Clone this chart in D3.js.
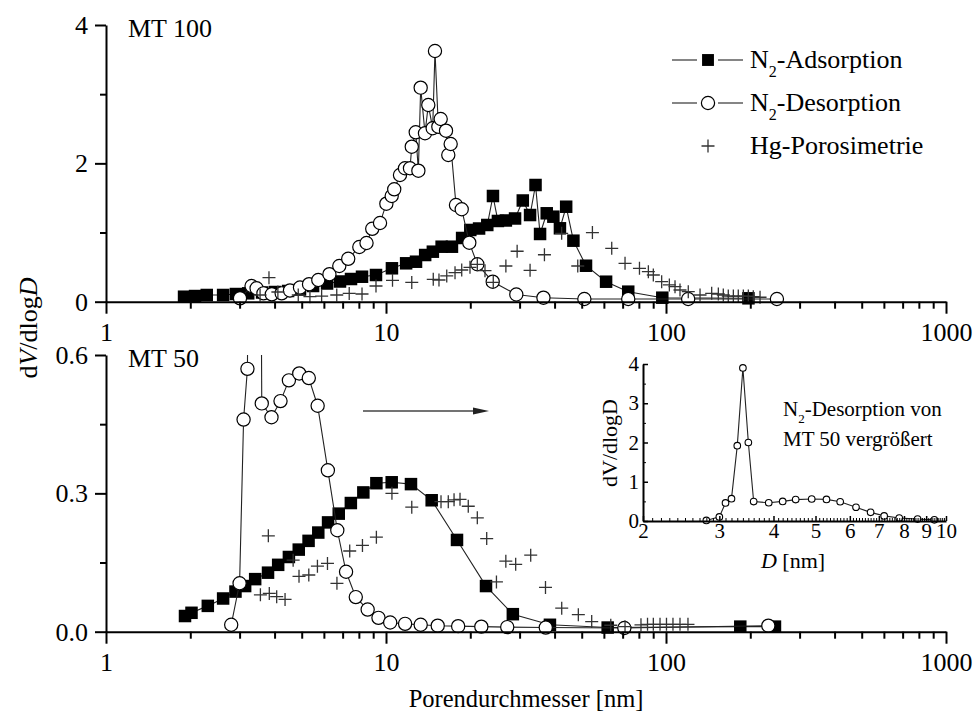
<!DOCTYPE html>
<html>
<head>
<meta charset="utf-8">
<script src="https://cdn.jsdelivr.net/npm/d3@7"></script>
<style>
  html, body { margin: 0; padding: 0; background: #fff; }
  svg { display: block; font-family: "Liberation Serif", "Times New Roman", serif; }
</style>
</head>
<body>
<svg id="chart" width="976" height="718"></svg>
<script>
// ---- Pore size distributions, [D in nm, dV/dlogD] ----
const mt100Adsorption = [
  [1.90,0.072],[2.08,0.082],[2.29,0.097],[2.62,0.097],[2.91,0.111],[3.22,0.121],[3.61,0.133],
  [4.01,0.140],[4.47,0.155],[4.93,0.176],[5.49,0.227],[6.16,0.263],[6.85,0.292],[7.50,0.328],
  [8.21,0.361],[9.21,0.386],[10.5,0.483],[11.8,0.555],[12.8,0.578],[13.8,0.675],[14.7,0.723],
  [15.8,0.795],[17.2,0.795],[18.7,0.921],[20.0,1.037],[21.5,1.058],[23.0,1.109],[24.1,1.528],
  [25.1,1.167],[26.8,1.174],[28.9,1.203],[30.8,1.463],[32.7,1.253],[34.2,1.687],[35.5,0.979],
  [37.5,1.278],[39.6,1.229],[41.8,1.061],[44.0,1.373],[46.7,0.882],[51.8,0.520],[61.1,0.289],
  [73.3,0.145],[97.0,0.058],[197,0.049]
];
const mt100Desorption = [
  [3.01,0.049],[3.31,0.227],[3.45,0.194],[3.65,0.121],[3.91,0.107],[4.24,0.121],[4.54,0.162],
  [4.93,0.205],[5.31,0.253],[5.73,0.314],[6.28,0.398],[6.81,0.516],[7.33,0.620],[8.03,0.791],
  [8.52,0.849],[8.93,1.054],[9.52,1.138],[10.03,1.417],[10.48,1.528],[10.70,1.625],[11.22,1.832],
  [11.69,1.929],[12.18,1.929],[12.36,2.241],[12.77,2.449],[13.05,1.894],[13.30,3.094],[13.78,2.435],
  [14.16,2.844],[14.68,2.507],[14.96,3.624],[15.38,2.530],[15.68,2.641],[16.38,2.472],[16.69,2.121],
  [17.02,2.280],[17.78,1.398],[18.64,1.336],[19.84,0.853],[21.19,0.541],[24.05,0.289],[29.2,0.104],
  [36.5,0.058],[51.1,0.039],[73.3,0.039],[120,0.039],[249,0.039]
];
const mt100Hg = [
  [3.55,0.097],[3.82,0.347],[4.11,0.140],[4.86,0.097],[5.35,0.072],[5.89,0.082],[6.67,0.097],
  [7.39,0.119],[8.21,0.111],[9.21,0.227],[10.55,0.309],[12.36,0.278],[14.75,0.324],[15.46,0.314],
  [16.48,0.372],[17.64,0.419],[18.64,0.458],[19.95,0.497],[21.19,0.541],[22.57,0.448],[24.16,0.278],
  [26.8,0.516],[29.4,0.729],[32.7,0.454],[36.8,0.679],[42.4,0.989],[48.4,0.516],[54.6,1.000],
  [64.0,0.772],[71.4,0.555],[80.4,0.483],[86.5,0.434],[90.1,0.386],[96.5,0.289],[102.8,0.242],
  [107.7,0.217],[112.2,0.169],[120.1,0.145],[132.3,0.097],[145.6,0.121],[153.8,0.111],[160.2,0.097],
  [166.9,0.082],[174.0,0.082],[181.2,0.082],[188.9,0.082],[196.8,0.082],[205.0,0.072],[216.7,0.064]
];

const mt50Adsorption = [
  [1.915,0.034],[2.02,0.041],[2.31,0.056],[2.62,0.072],[2.90,0.087],[3.14,0.099],[3.41,0.114],
  [3.79,0.128],[4.12,0.145],[4.50,0.162],[4.88,0.178],[5.29,0.197],[5.73,0.215],[6.21,0.237],
  [6.78,0.256],[7.49,0.279],[8.30,0.302],[9.24,0.322],[10.48,0.324],[12.28,0.320],[14.56,0.285],
  [17.93,0.199],[22.76,0.099],[28.38,0.038],[38.5,0.015],[61.9,0.009],[184.2,0.011],[245,0.011]
];
const mt50Desorption = [
  [2.8,0.015],[3.0,0.105],[3.1,0.46],[3.2,0.57],[3.3,1.92],[3.4,3.9],[3.5,2.0],[3.6,0.495],
  [3.9,0.465],[4.2,0.50],[4.5,0.545],[4.9,0.56],[5.3,0.55],[5.7,0.49],[6.2,0.35],[6.7,0.22],
  [7.2,0.13],[7.8,0.075],[8.6,0.048],[9.4,0.03],[10.35,0.02],[11.7,0.017],[13.3,0.015],
  [15.3,0.013],[18.1,0.012],[21.9,0.011],[27.1,0.010],[37.2,0.009],[71,0.008],[232,0.013]
];
const mt50Hg = [
  [3.56,0.080],[3.80,0.208],[3.83,0.083],[4.07,0.076],[4.36,0.070],[4.66,0.155],[4.89,0.120],
  [5.30,0.123],[5.69,0.142],[6.18,0.148],[6.68,0.105],[7.42,0.175],[8.24,0.187],[9.24,0.205],
  [10.5,0.30],[12.36,0.270],[15.72,0.282],[16.69,0.282],[17.50,0.286],[18.38,0.287],[19.67,0.272],
  [21.19,0.247],[22.89,0.202],[24.80,0.108],[26.79,0.153],[29.05,0.146],[32.87,0.166],[37.12,0.096],
  [42.42,0.051],[48.63,0.037],[54.28,0.022],[63.5,0.014],[71.4,0.011],[81.4,0.015],[85.9,0.016],
  [90.1,0.016],[95.2,0.016],[100.4,0.016],[105.9,0.016],[112.2,0.016],[119.8,0.016]
];

// ---- Axis ticks and labels ----
const xMajorTicks = [1, 10, 100, 1000];
const topYTicks = [0, 2, 4];
const topYMinor = [1, 3];
const botYTicks = [0, 0.3, 0.6];
const botYMinor = [0.15, 0.45];
const insetXTicks = [2, 3, 4, 5, 6, 7, 8, 9, 10];
const insetYTicks = [0, 1, 2, 3, 4];
const legendLabels = [
  { sub: "N", idx: "2", rest: "-Adsorption", kind: "square" },
  { sub: "N", idx: "2", rest: "-Desorption", kind: "circle" },
  { sub: "Hg-Porosimetrie", idx: "", rest: "", kind: "cross" }
];

const FONT = 26;
const TITLE_FONT = 24.5;
const svg = d3.select("#chart");

const x = d3.scaleLog().domain([1, 1000]).range([106, 946]);
const yTop = d3.scaleLinear().domain([0, 4]).range([301.7, 25]);
const yBot = d3.scaleLinear().domain([0, 0.6]).range([631.7, 355]);

const xMinorTicks = [];
[1, 10, 100].forEach(dec => { for (let k = 2; k <= 9; k++) xMinorTicks.push(k * dec); });

function styleAxis(g, fs) {
  g.selectAll("path.domain").attr("stroke", "#000").attr("stroke-width", 2);
  g.selectAll(".tick line").attr("stroke", "#000").attr("stroke-width", 2);
  g.selectAll(".tick text").attr("fill", "#000").style("font-size", fs + "px")
    .style("font-family", '"Liberation Serif", "Times New Roman", serif');
}

function drawPanel(yScale, yMajor, yMinor, yFmt) {
  const y0 = yScale.range()[0];
  const gMinX = svg.append("g").attr("transform", `translate(0,${y0})`)
    .call(d3.axisBottom(x).tickValues(xMinorTicks).tickSize(7).tickSizeOuter(0).tickFormat(""));
  gMinX.select("path.domain").remove();
  styleAxis(gMinX, FONT);
  const gX = svg.append("g").attr("transform", `translate(0,${y0})`)
    .call(d3.axisBottom(x).tickValues(xMajorTicks).tickSize(12).tickPadding(9).tickSizeOuter(0).tickFormat(d3.format("d")));
  styleAxis(gX, FONT);

  const gMinY = svg.append("g").attr("transform", "translate(106,0)")
    .call(d3.axisLeft(yScale).tickValues(yMinor).tickSize(6).tickSizeOuter(0).tickFormat(""));
  gMinY.select("path.domain").remove();
  styleAxis(gMinY, FONT);
  const gY = svg.append("g").attr("transform", "translate(106,0)")
    .call(d3.axisLeft(yScale).tickValues(yMajor).tickSize(11).tickPadding(7).tickSizeOuter(0).tickFormat(yFmt));
  styleAxis(gY, FONT);
}

function drawSeries(g, xs, ys, data, kind, withLine) {
  const pts = data.map(d => [xs(d[0]), ys(d[1])]);
  if (withLine) {
    g.append("path").attr("d", d3.line()(pts))
      .attr("fill", "none").attr("stroke", "#222").attr("stroke-width", 1.1);
  }
  drawMarkers(g, pts, kind, 1);
}

function drawMarkers(g, pts, kind, scale) {
  if (kind === "square") {
    const s = 12.5 * scale;
    g.selectAll(null).data(pts).join("rect")
      .attr("x", p => p[0] - s / 2).attr("y", p => p[1] - s / 2)
      .attr("width", s).attr("height", s).attr("fill", "#000");
  } else if (kind === "circle") {
    g.selectAll(null).data(pts).join("circle")
      .attr("cx", p => p[0]).attr("cy", p => p[1]).attr("r", 6.6 * scale)
      .attr("fill", "#fff").attr("stroke", "#000").attr("stroke-width", 1.2);
  } else {
    const h = 6.5 * scale;
    g.selectAll(null).data(pts).join("path")
      .attr("d", p => `M${p[0] - h},${p[1]}H${p[0] + h}M${p[0]},${p[1] - h}V${p[1] + h}`)
      .attr("stroke", "#333").attr("stroke-width", 1.3).attr("fill", "none");
  }
}

// ---- Clip for the MT 50 panel (desorption peak exceeds the axis range) ----
svg.append("defs").append("clipPath").attr("id", "clipBot")
  .append("rect").attr("x", 0).attr("y", 355).attr("width", 976).attr("height", 363);

// ---- Panel MT 100 ----
const gTop = svg.append("g");
drawSeries(gTop, x, yTop, mt100Adsorption, "square", true);
drawSeries(gTop, x, yTop, mt100Desorption, "circle", true);
drawSeries(gTop, x, yTop, mt100Hg, "cross", false);
drawPanel(yTop, topYTicks, topYMinor, d3.format("d"));

// ---- Panel MT 50 ----
const gBot = svg.append("g").attr("clip-path", "url(#clipBot)");
drawSeries(gBot, x, yBot, mt50Adsorption, "square", true);
drawSeries(gBot, x, yBot, mt50Desorption, "circle", true);
drawSeries(gBot, x, yBot, mt50Hg, "cross", false);
drawPanel(yBot, botYTicks, botYMinor, d3.format(".1f"));

// ---- Panel titles ----
svg.append("text").attr("x", 128).attr("y", 37).style("font-size", FONT + "px").text("MT 100");
svg.append("text").attr("x", 128).attr("y", 367).style("font-size", FONT + "px").text("MT 50");

// ---- Axis titles ----
const yTitle = svg.append("text").attr("transform", "translate(37,328) rotate(-90)")
  .attr("text-anchor", "middle").style("font-size", FONT + "px");
yTitle.append("tspan").text("d");
yTitle.append("tspan").style("font-style", "italic").text("V");
yTitle.append("tspan").text("/dlog");
yTitle.append("tspan").style("font-style", "italic").text("D");

svg.append("text").attr("x", 526).attr("y", 707).attr("text-anchor", "middle")
  .style("font-size", TITLE_FONT + "px").text("Porendurchmesser [nm]");

// ---- Legend ----
const legendRows = [60, 103, 146];
legendLabels.forEach((item, i) => {
  const cy = legendRows[i];
  const g = svg.append("g");
  if (item.kind !== "cross") {
    g.append("line").attr("x1", 672).attr("x2", 697).attr("y1", cy).attr("y2", cy)
      .attr("stroke", "#222").attr("stroke-width", 1.1);
    g.append("line").attr("x1", 718).attr("x2", 743).attr("y1", cy).attr("y2", cy)
      .attr("stroke", "#222").attr("stroke-width", 1.1);
  }
  drawMarkers(g, [[708, cy]], item.kind, item.kind === "square" ? 0.95 : 1);
  const t = g.append("text").attr("x", 750).attr("y", cy + 8).style("font-size", FONT + "px");
  t.append("tspan").text(item.sub);
  if (item.idx) {
    t.append("tspan").attr("dy", 9).style("font-size", "16px").text(item.idx);
    t.append("tspan").attr("dy", -9).text(item.rest);
  }
});

// ---- Arrow pointing to the inset ----
svg.append("line").attr("x1", 363).attr("x2", 475).attr("y1", 411).attr("y2", 411)
  .attr("stroke", "#444").attr("stroke-width", 1.5);
svg.append("path").attr("d", "M473,407.5L489,411L473,414.5Z").attr("fill", "#222");

// ---- Inset: MT 50 desorption, magnified ----
const xIn = d3.scaleLog().domain([2, 10]).range([643, 946]);
const yIn = d3.scaleLinear().domain([0, 4]).range([521, 364]);
const IFONT = 21;

const insetData = mt50Desorption.filter(d => d[0] >= 2 && d[0] <= 10);
const gIn = svg.append("g");
const inPts = insetData.map(d => [xIn(d[0]), yIn(d[1])]);
gIn.append("path").attr("d", d3.line()(inPts)).attr("fill", "none")
  .attr("stroke", "#222").attr("stroke-width", 1.1);
gIn.selectAll(null).data(inPts).join("circle")
  .attr("cx", p => p[0]).attr("cy", p => p[1]).attr("r", 3.3)
  .attr("fill", "#fff").attr("stroke", "#000").attr("stroke-width", 1.1);

const insetXMinor = d3.range(20, 100).map(v => v / 10).filter(v => !insetXTicks.includes(v));
const gInMinX = svg.append("g").attr("transform", "translate(0,521)")
  .call(d3.axisBottom(xIn).tickValues(insetXMinor).tickSizeInner(-3).tickSizeOuter(0).tickFormat(""));
gInMinX.select("path.domain").remove();
gInMinX.selectAll(".tick line").attr("stroke", "#000").attr("stroke-width", 1);
const gInX = svg.append("g").attr("transform", "translate(0,521)")
  .call(d3.axisBottom(xIn).tickValues(insetXTicks).tickSizeInner(-5).tickPadding(2).tickSizeOuter(0).tickFormat(d3.format("d")));
styleAxis(gInX, IFONT);
gInX.selectAll(".tick line").attr("stroke-width", 1.5);

const gInMinY = svg.append("g").attr("transform", "translate(643,0)")
  .call(d3.axisLeft(yIn).tickValues([0.5, 1.5, 2.5, 3.5]).tickSizeInner(-3).tickSizeOuter(0).tickFormat(""));
gInMinY.select("path.domain").remove();
gInMinY.selectAll(".tick line").attr("stroke", "#000").attr("stroke-width", 1);
const gInY = svg.append("g").attr("transform", "translate(643,0)")
  .call(d3.axisLeft(yIn).tickValues(insetYTicks).tickSizeInner(-5).tickPadding(4).tickSizeOuter(0).tickFormat(d3.format("d")));
styleAxis(gInY, IFONT);
gInY.selectAll(".tick line").attr("stroke-width", 1.5);

const inYTitle = svg.append("text").attr("transform", "translate(617,443) rotate(-90)")
  .attr("text-anchor", "middle").style("font-size", "22px").text("dV/dlogD");
const inXTitle = svg.append("text").attr("x", 793).attr("y", 568).attr("text-anchor", "middle")
  .style("font-size", "22px");
inXTitle.append("tspan").style("font-style", "italic").text("D");
inXTitle.append("tspan").text(" [nm]");

const note1 = svg.append("text").attr("x", 783).attr("y", 416).style("font-size", IFONT + "px");
note1.append("tspan").text("N");
note1.append("tspan").attr("dy", 7).style("font-size", "13px").text("2");
note1.append("tspan").attr("dy", -7).text("-Desorption von");
svg.append("text").attr("x", 783).attr("y", 446).style("font-size", IFONT + "px").text("MT 50 vergrößert");
</script>
</body>
</html>
